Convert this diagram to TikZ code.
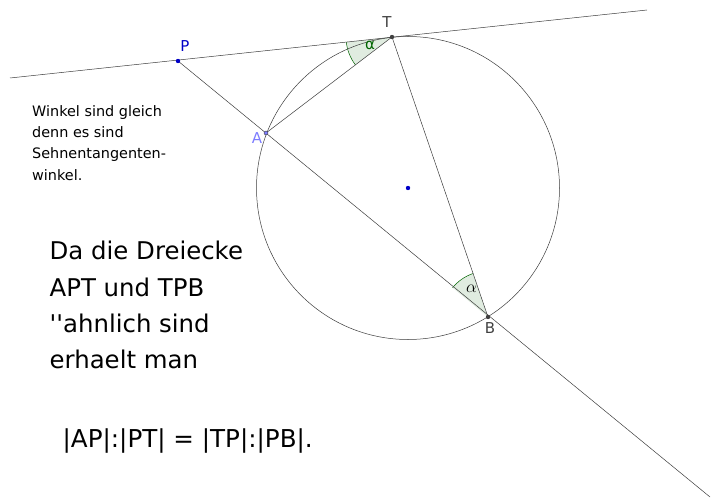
\documentclass[tikz,border=0pt]{standalone}
\usepackage{fontspec}
\newfontfamily\dejavu{DejaVu Sans}
\usepackage{xcolor}
\definecolor{myblue}{RGB}{0,0,200}
\definecolor{mylilac}{RGB}{125,125,255}
\definecolor{mygray}{RGB}{64,64,64}
\definecolor{mygreen}{RGB}{0,100,0}
\definecolor{myline}{RGB}{60,60,60}
\usepackage{tikz}
\usetikzlibrary{angles}
\usetikzlibrary{calc}

\begin{document}
\begin{tikzpicture}[x=1pt,y=1pt]
        \useasboundingbox (0,0) rectangle (711,501);
        \coordinate (C) at (408,313);
        \coordinate (T) at (392,464);
        \coordinate (P) at (178,440);
        \coordinate (A) at (266,368);
        \coordinate (B) at (488,184);
        \coordinate (L1) at (10,423);
        \coordinate (L2) at (647,491);
        \coordinate (E) at (710,4);
        \pic[draw=mygreen,fill=mygreen!12,angle radius=46pt,line width=0.5pt] {angle=P--T--A};
        \pic[draw=mygreen,fill=mygreen!12,angle radius=46pt,line width=0.5pt] {angle=T--B--A};
        \draw[myline,line width=0.5pt] (L1) -- (L2);
        \draw[myline,line width=0.5pt] (P) -- (E);
        \draw[myline,line width=0.5pt] (T) -- (A);
        \draw[myline,line width=0.5pt] (T) -- (B);
        \draw[myline,line width=0.5pt] (C) circle [radius=151.5pt];
        \fill[myblue] foreach \s in {P,C}{(\s) circle [radius=2.2pt]};
        \fill[mygray] foreach \s in {T,B}{(\s) circle [radius=2.2pt]};
        \filldraw[mylilac,draw=mygray] (A) circle [radius=2pt];
        \node[myblue,anchor=base,font=\dejavu\fontsize{15}{17}\selectfont] (labP) at (185,449) {P};
        \node[mygray,anchor=base,font=\dejavu\fontsize{15}{17}\selectfont] (labT) at (387,473.5) {T};
        \node[mylilac,anchor=base,font=\dejavu\fontsize{15}{17}\selectfont] (labA) at (257,357.5) {A};
        \node[mygray,anchor=base,font=\dejavu\fontsize{15}{17}\selectfont] (labB) at (490,168) {B};
        \node[mygreen,font=\dejavu\fontsize{15}{17}\selectfont] (alphaT) at (370,456) {α};
        \node[font=\fontsize{16}{18}\selectfont] (alphaB) at (471.5,212) {$\alpha$};
        \foreach \txt [count=\i] in {Winkel sind gleich,denn es sind,Sehnentangenten-,winkel.}
          \node[anchor=base west,inner sep=0pt,font=\dejavu\fontsize{14.4}{21}\selectfont] (note\i) at (32,{384.5-21.2*(\i-1)}) {\txt};
        \foreach \txt [count=\i] in {Da die Dreiecke,APT und TPB,''ahnlich sind,erhaelt man}
          \node[anchor=base west,inner sep=0pt,font=\dejavu\fontsize{24.4}{36}\selectfont] (claim\i) at (49.5,{241-36*(\i-1)}) {\txt};
        \node[anchor=base west,inner sep=0pt,font=\dejavu\fontsize{24.6}{36}\selectfont] (ratio) at (62.5,54) {|AP|:|PT| = |TP|:|PB|.};
      \end{tikzpicture}
\end{document}
